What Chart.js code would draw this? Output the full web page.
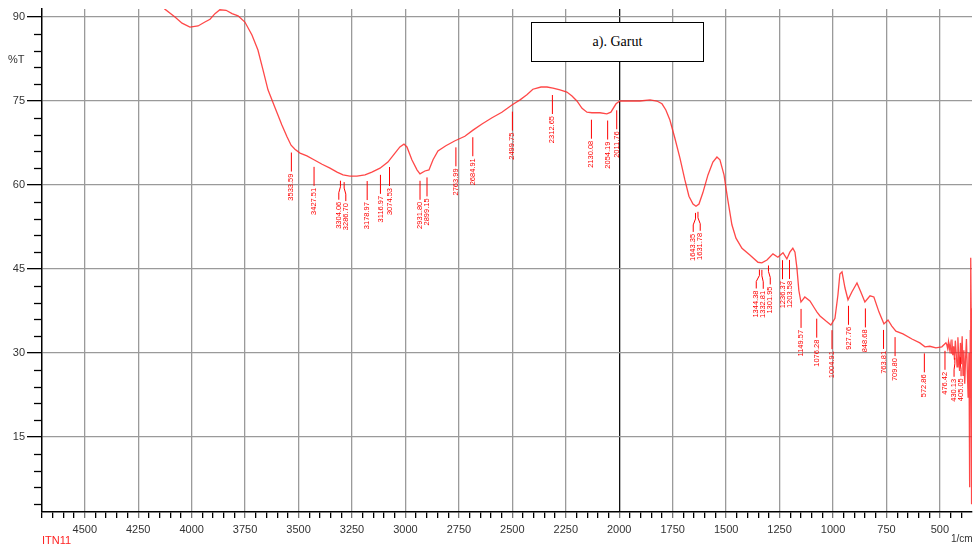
<!DOCTYPE html>
<html>
<head>
<meta charset="utf-8">
<script src="https://cdn.jsdelivr.net/npm/chart.js@4/dist/chart.umd.min.js"></script>
<style>
  html, body { margin:0; padding:0; background:#fff; }
  #wrap { position:relative; width:974px; height:548px; overflow:hidden; }
  #c { position:absolute; left:0; top:0; }
  .txt { position:absolute; font-family:"Liberation Sans", Arial, sans-serif; white-space:nowrap; }
  #legendBox { position:absolute; left:531px; top:22px; width:171px; height:38px; border:1.5px solid #000; background:#fff;
    font-family:"Liberation Serif", "Times New Roman", serif; font-size:14px; color:#000; display:flex; align-items:center; justify-content:center; }
</style>
</head>
<body>
<div id="wrap">
  <canvas id="c" width="974" height="548"></canvas>
  <div id="legendBox">a). Garut</div>
  <div class="txt" style="left:8px; top:53px; font-size:11px; color:#333;">%T</div>
  <div class="txt" style="left:42px; top:534px; font-size:11px; color:#f22;">ITN11</div>
  <div class="txt" style="left:951px; top:533px; font-size:10px; color:#333;">1/cm</div>
</div>
<script>
// ---- Spectrum data (wavenumber in 1/cm, transmittance in %T) ----
const wavenumbers = [
  4700, 4400, 4200, 4125, 4078, 4045, 4008, 3970, 3938, 3914, 3891, 3868, 3839, 3811, 3783, 3751,
  3718, 3690, 3666, 3643, 3610, 3578, 3554, 3535, 3517, 3493, 3461, 3428, 3390, 3353, 3320, 3292,
  3260, 3227, 3189, 3157, 3119, 3082, 3049, 3026, 3007, 2993, 2970, 2946, 2932, 2909, 2890, 2871,
  2848, 2811, 2768, 2722, 2684, 2642, 2595, 2549, 2502, 2464, 2432, 2404, 2366, 2338, 2310, 2277,
  2245, 2221, 2198, 2174, 2151, 2128, 2090, 2058, 2039, 2015, 1997, 1950, 1903, 1856, 1824, 1800,
  1782, 1763, 1740, 1716, 1693, 1674, 1655, 1641, 1627, 1609, 1585, 1562, 1543, 1529, 1510, 1492,
  1473, 1454, 1426, 1389, 1351, 1333, 1309, 1281, 1258, 1234, 1216, 1202, 1188, 1178, 1169, 1160,
  1150, 1132, 1108, 1085, 1075, 1061, 1033, 1010, 991, 977, 968, 958, 944, 930, 912, 888,
  870, 851, 827, 809, 785, 762, 743, 725, 706, 673, 631, 594, 570, 547, 519, 491,
  472, 468, 464, 460, 456, 452, 448, 444, 440, 436, 432, 428, 424, 420, 416, 412,
  408, 404, 400, 396, 392, 388, 384, 380, 376, 372, 368, 364, 362, 360, 358, 356,
  354, 352, 350
];
const transmittance = [
  97.0, 96.0, 94.0, 91.4, 90.0, 88.9, 88.2, 88.4, 89.1, 89.6, 90.6, 91.3, 91.2, 90.6, 90.2, 89.1,
  86.8, 84.1, 80.5, 77.0, 73.8, 70.7, 68.6, 67.1, 66.4, 65.7, 65.2, 64.5, 63.7, 63.0, 62.3, 61.8,
  61.6, 61.6, 61.8, 62.3, 63.0, 64.1, 65.7, 66.8, 67.3, 66.8, 64.5, 62.7, 62.0, 62.5, 62.7, 64.5,
  66.1, 67.0, 67.9, 68.7, 69.8, 70.9, 72.0, 73.0, 74.3, 75.2, 76.1, 77.1, 77.5, 77.5, 77.3, 77.0,
  76.6, 75.9, 75.0, 73.7, 73.0, 72.9, 72.9, 72.7, 73.0, 74.5, 75.0, 75.0, 75.0, 75.2, 75.0, 74.5,
  73.4, 71.6, 68.4, 64.8, 60.9, 58.0, 56.6, 56.2, 56.6, 58.6, 61.8, 64.1, 65.0, 64.5, 61.8, 57.3,
  52.9, 50.5, 48.7, 47.5, 46.2, 46.1, 46.6, 47.7, 47.1, 47.9, 46.8, 48.0, 48.7, 48.0, 45.2, 41.2,
  39.1, 40.0, 39.3, 37.9, 37.3, 36.6, 35.7, 35.0, 36.2, 40.4, 44.1, 44.5, 41.6, 39.5, 40.9, 42.5,
  40.9, 39.1, 40.2, 40.0, 37.3, 35.2, 35.9, 34.8, 33.9, 33.4, 32.5, 31.8, 31.1, 31.2, 30.9, 31.1,
  31.8, 31.5, 30.8, 32.0, 30.6, 31.6, 30.0, 32.4, 29.6, 31.2, 28.8, 32.2, 30.0, 27.5, 32.8, 29.4,
  26.8, 31.8, 28.0, 33.0, 26.0, 30.5, 24.5, 29.0, 32.5, 27.0, 22.0, 30.0, 14.0, 6.0, 34.0, 47.0,
  38.0, 3.0, 10.0
];
// ---- Peak annotation labels ----
const peakLabels = [
  '3533.59','3427.51','3304.06','3286.70','3178.97','3116.97','3074.53','2931.80','2899.15',
  '2763.99','2684.91','2499.75','2312.65','2130.08','2054.19','2011.76','1643.35','1631.78',
  '1344.38','1332.81','1301.95','1236.37','1203.58','1149.57','1076.28','1004.91','927.76',
  '848.68','763.81','709.80','572.86','476.42','430.13','405.05'
];
// ---- Axis tick values ----
const xMajorTicks = [4500, 4250, 4000, 3750, 3500, 3250, 3000, 2750, 2500, 2250, 2000, 1750, 1500, 1250, 1000, 750, 500];
const yMajorTicks = [90, 75, 60, 45, 30, 15];
const xRange = [350, 4700];
const yRange = [1.6, 91.43];

const points = wavenumbers.map((w, i) => ({ x: w, y: transmittance[i] }));

function interpT(w) {
  for (let i = 0; i < wavenumbers.length - 1; i++) {
    const a = wavenumbers[i], b = wavenumbers[i + 1];
    if (w <= a && w >= b) {
      const t = (a - w) / (a - b);
      return transmittance[i] + t * (transmittance[i + 1] - transmittance[i]);
    }
  }
  return transmittance[transmittance.length - 1];
}

const annotPlugin = {
  id: 'annot',
  afterDatasetsDraw(chart) {
    const ctx = chart.ctx, xs = chart.scales.x, ys = chart.scales.y;
    // minor y ticks
    ctx.save();
    ctx.strokeStyle = '#000'; ctx.lineWidth = 1.3;
    for (let v = 3; v <= 90; v += 3) {
      if (yMajorTicks.includes(v)) continue;
      const py = Math.round(ys.getPixelForValue(v)) + 0.5;
      ctx.beginPath(); ctx.moveTo(xs.left - 8, py); ctx.lineTo(xs.left, py); ctx.stroke();
    }
    ctx.restore();

    // peak annotations
    const items = peakLabels.map(l => {
      const w = parseFloat(l);
      const px = xs.getPixelForValue(w);
      const py = ys.getPixelForValue(interpT(w));
      return { l, px, py };
    }).sort((a, b) => a.px - b.px);
    const gap = 7;
    let clusters = items.map(it => ({ members: [it], center: it.px }));
    let merged = true;
    while (merged) {
      merged = false;
      for (let i = 0; i < clusters.length - 1; i++) {
        const A = clusters[i], B = clusters[i + 1];
        const aRight = A.center + (A.members.length - 1) * gap / 2;
        const bLeft = B.center - (B.members.length - 1) * gap / 2;
        if (bLeft - aRight < gap) {
          const m = A.members.concat(B.members);
          const c = m.reduce((s, it) => s + it.px, 0) / m.length;
          clusters.splice(i, 2, { members: m, center: c });
          merged = true; break;
        }
      }
    }
    clusters.forEach(c => {
      c.members.forEach((it, k) => { it.lx = c.center - (c.members.length - 1) * gap / 2 + k * gap; });
    });
    ctx.save();
    ctx.strokeStyle = '#ff0000'; ctx.fillStyle = '#ff0000'; ctx.lineWidth = 1;
    ctx.font = '7.5px "Liberation Sans", Arial, sans-serif';
    items.forEach(it => {
      const y0 = it.py + 7;
      ctx.beginPath();
      if (Math.abs(it.lx - it.px) > 0.5) {
        ctx.moveTo(it.px, y0); ctx.lineTo(it.px, y0 + 6);
        ctx.lineTo(it.lx, y0 + 12); ctx.lineTo(it.lx, y0 + 19);
      } else {
        ctx.moveTo(it.px, y0); ctx.lineTo(it.px, y0 + 19);
      }
      ctx.stroke();
      ctx.save();
      ctx.translate(it.lx, y0 + 21);
      ctx.rotate(-Math.PI / 2);
      ctx.textAlign = 'right'; ctx.textBaseline = 'middle';
      ctx.fillText(it.l, 0, 0);
      ctx.restore();
    });
    ctx.restore();
  }
};

new Chart(document.getElementById('c'), {
  type: 'line',
  data: {
    datasets: [{
      data: points,
      borderColor: 'rgba(255,40,40,0.85)',
      borderWidth: 1.3,
      pointRadius: 0,
      tension: 0,
      fill: false
    }]
  },
  options: {
    responsive: false,
    animation: false,
    events: [],
    layout: { padding: { top: 9, right: 2, left: 0, bottom: 0 } },
    plugins: { legend: { display: false }, tooltip: { enabled: false } },
    scales: {
      x: {
        type: 'linear', reverse: true, min: xRange[0], max: xRange[1],
        afterBuildTicks(scale) {
          const t = [];
          for (let v = 400; v <= 4700; v += 50) t.push({ value: v });
          scale.ticks = t;
        },
        afterFit(scale) { scale.height = 36; },
        border: { display: true, color: '#000', width: 1.5 },
        grid: {
          color: c => xMajorTicks.includes(c.tick && c.tick.value) ? (c.tick.value === 2000 ? '#111' : '#9a9a9a') : 'rgba(0,0,0,0)',
          lineWidth: 1.3,
          tickColor: c => xMajorTicks.includes(c.tick && c.tick.value) ? '#777' : '#000',
          tickLength: 6,
          drawTicks: true
        },
        ticks: {
          autoSkip: false, maxRotation: 0, minRotation: 0, padding: 5,
          color: '#333', font: { family: '"Liberation Sans", Arial, sans-serif', size: 11 },
          callback: v => xMajorTicks.includes(v) ? String(v) : ''
        }
      },
      y: {
        type: 'linear', min: yRange[0], max: yRange[1],
        afterBuildTicks(scale) {
          const t = [];
          for (let v = 3; v <= 90; v += 3) t.push({ value: v });
          scale.ticks = t;
        },
        afterFit(scale) { scale.width = 42; },
        border: { display: true, color: '#000', width: 1.5 },
        grid: {
          color: c => yMajorTicks.includes(c.tick && c.tick.value) ? '#9a9a9a' : 'rgba(0,0,0,0)',
          lineWidth: 1.3,
          tickColor: c => yMajorTicks.includes(c.tick && c.tick.value) ? '#000' : 'rgba(0,0,0,0)',
          tickLength: 15,
          drawTicks: true
        },
        ticks: {
          autoSkip: false, padding: 2,
          color: '#333', font: { family: '"Liberation Sans", Arial, sans-serif', size: 11 },
          callback: v => yMajorTicks.includes(v) ? String(v) : ''
        }
      }
    }
  },
  plugins: [annotPlugin]
});
</script>
</body>
</html>
